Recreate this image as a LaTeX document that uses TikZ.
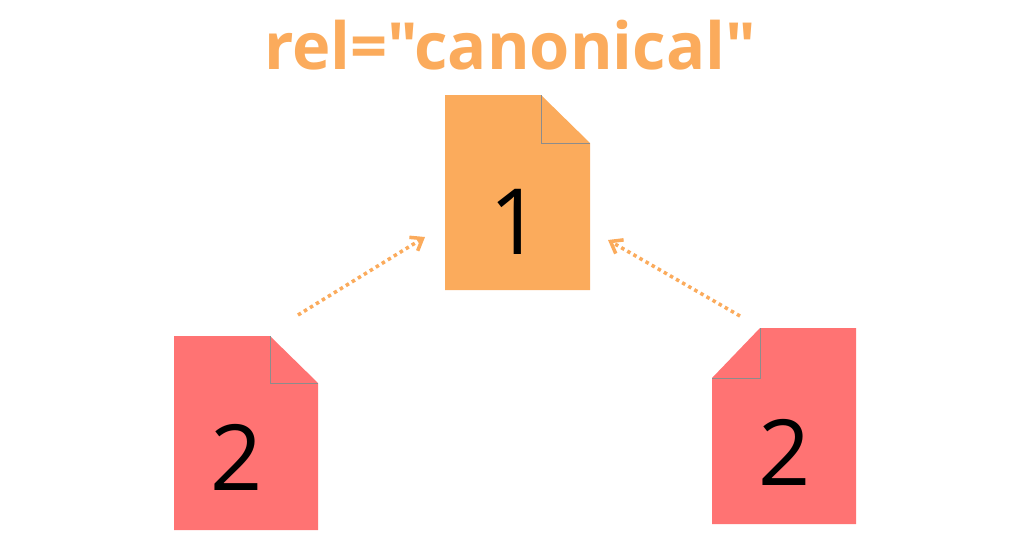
\documentclass[tikz,border=0pt]{standalone}
\usepackage{fontspec}
\setmainfont{Open Sans}
\newfontfamily\titlefont{Open Sans}[Ligatures=TeXOff]
\usetikzlibrary{arrows.meta}
\definecolor{docorange}{HTML}{FBAB5C}
\definecolor{docred}{HTML}{FF7373}
\tikzset{
  page/.style={draw=black!45, line width=0.4pt},
  link/.style={docorange, line width=2pt, dotted, -{Straight Barb[length=6pt,width=9pt]}},
  digit/.style={font=\fontsize{52}{52}\selectfont},
}
\begin{document}
\begin{tikzpicture}[x=0.02cm, y=-0.02cm]
\useasboundingbox (0,0) rectangle (1024,538);

% title
\node[docorange, font=\titlefont\fontsize{37}{37}\selectfont\bfseries] (title) at (510,45) {rel="canonical"};

% page 1
\fill[docorange] (445,95) -- (541,95) -- (590,143) -- (590,290) -- (445,290) -- cycle;
\draw[page] (541,95) -- (541,143) -- (590,143);
\node[digit] (one) at (516,222) {1};

% left page 2
\fill[docred] (174,336) -- (270,336) -- (318,383) -- (318,530) -- (174,530) -- cycle;
\draw[page] (270,336) -- (270,383) -- (318,383);
\node[digit] (twoL) at (237,457) {2};

% right page 2
\fill[docred] (760,328) -- (856,328) -- (856,524) -- (712,524) -- (712,378) -- cycle;
\draw[page] (760,328) -- (760,378) -- (712,378);
\node[digit] (twoR) at (785,452) {2};

% links
\coordinate (fromL) at (298,315);
\coordinate (toL) at (425,237);
\coordinate (fromR) at (740,316);
\coordinate (toR) at (608,240);
\draw[link] (fromL) -- (toL);
\draw[link] (fromR) -- (toR);
\end{tikzpicture}
\end{document}
